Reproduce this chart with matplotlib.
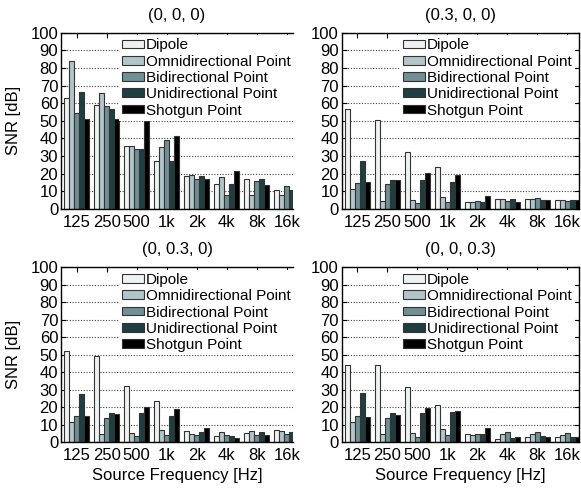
import numpy as np
import matplotlib
matplotlib.use("Agg")
import matplotlib.pyplot as plt

plt.rcParams['font.family'] = ['Liberation Sans', 'DejaVu Sans']

freqs = ["125", "250", "500", "1k", "2k", "4k", "8k", "16k"]
series = ["Dipole", "Omnidirectional Point", "Bidirectional Point",
          "Unidirectional Point", "Shotgun Point"]
colors = ["#eef2f3", "#b2c6ca", "#709094", "#1f3e40", "#000000"]

# SNR [dB] per series, per frequency band
snr_000 = [
    [63, 59, 35.5, 27, 18.5, 14.4, 16.8, 10.5],
    [84, 65.6, 35.5, 35.2, 19.3, 18.1, 8, 7.8],
    [54.3, 58.2, 34, 39.1, 16.8, 7.9, 15.9, 12.9],
    [66.4, 56.9, 34, 27, 18.7, 14.2, 17, 11],
    [51.2, 51.2, 49.9, 41.6, 17.2, 21.7, 13.8, 17.4],
]
snr_300 = [
    [56.5, 50.3, 32.1, 23.8, 4.2, 5.7, 5.9, 5.3],
    [11.3, 4.5, 5.3, 6.6, 3.8, 5.5, 5.7, 4.9],
    [14.9, 14, 3.4, 4.2, 4.3, 4.7, 6.0, 4.7],
    [27, 16.4, 16.3, 15.1, 3.8, 5.5, 5.3, 4.9],
    [15.1, 16.3, 20.4, 19.3, 7.4, 4.2, 5.1, 4.9],
]
snr_030 = [
    [52.4, 49.3, 32.2, 23.4, 6.3, 3.8, 5.5, 6.9],
    [11.4, 4.6, 5.3, 6.9, 4.8, 5.7, 6.5, 6.3],
    [15.2, 13.9, 3.4, 4.2, 4.2, 4.2, 4.3, 4.6],
    [27.4, 16.6, 16.6, 15.2, 6.1, 3.6, 5.7, 6.1],
    [15.2, 16.4, 20.4, 19.0, 8.0, 2.7, 4.4, 6.3],
]
snr_003 = [
    [44.4, 44, 31.6, 21.3, 4.6, 1.9, 3.2, 3.2],
    [11.4, 4.6, 5.5, 7.4, 4.2, 4.8, 4.6, 4.4],
    [14.9, 13.7, 3.0, 4.0, 4.6, 5.7, 5.9, 5.1],
    [28.2, 16.8, 17, 17.5, 4.6, 2.5, 3.4, 3.2],
    [14.3, 15.6, 19.8, 17.7, 8.2, 3.2, 3.0, 3.2],
]

panels = [
    ("(0, 0, 0)", snr_000, (61, 293, 32.7, 209), True, False),
    ("(0.3, 0, 0)", snr_300, (341.7, 579, 32.7, 209), False, False),
    ("(0, 0.3, 0)", snr_030, (61, 293, 267.3, 442.3), True, True),
    ("(0, 0, 0.3)", snr_003, (341.7, 579, 267.3, 442.3), False, True),
]

W, H = 581, 493
fig = plt.figure(figsize=(W / 100, H / 100), dpi=100)
x = np.arange(len(freqs))
bw = 1 / 6
fs = 12

for title, data, (x0, x1, yt, yb), left, bottom in panels:
    ax = fig.add_axes([x0 / W, 1 - yb / H, (x1 - x0) / W, (yb - yt) / H])
    for j, (name, vals) in enumerate(zip(series, data)):
        ax.bar(x + (j - 2) * bw, vals, bw, color=colors[j], edgecolor="#333333",
               linewidth=0.8, label=name, zorder=3)
    # 30 px per group, first group ~15.7 px from the frame
    ax.set_xlim(-15.7 / 30, (x1 - x0 - 15.7) / 30)
    ax.set_ylim(0, 100)
    ax.set_yticks(range(0, 101, 10))
    ax.set_xticks(x)
    ax.set_xticklabels(freqs, fontsize=fs)
    ax.tick_params(axis="y", labelsize=fs, pad=2)
    ax.tick_params(direction="in", length=3.5, width=0.8, top=True, right=not left)
    ax.tick_params(axis="x", pad=4)
    ax.set_axisbelow(True)
    ax.yaxis.grid(True, linestyle=(0, (1, 1.5)), color="#444444", linewidth=0.8, zorder=0)
    for sp in ax.spines.values():
        sp.set_linewidth(1.0)
        sp.set_zorder(6)
    if left:
        ax.spines["right"].set_visible(False)
        ax.set_ylabel("SNR [dB]", fontsize=fs, labelpad=7)
    if bottom:
        ax.set_xlabel("Source Frequency [Hz]", fontsize=fs, labelpad=4)
    ax.set_title(title, fontsize=fs, pad=9.5)
    anchor_x = (119 - x0) / (x1 - x0) if left else (400 - x0) / (x1 - x0)
    leg = ax.legend(loc="upper left", bbox_to_anchor=(anchor_x, 0.985),
                    fontsize=11, frameon=True, fancybox=False, edgecolor="none",
                    facecolor="white", framealpha=1, borderaxespad=0, borderpad=0.2,
                    handlelength=1.45, handleheight=0.5, handletextpad=0.12,
                    labelspacing=0.15)
    leg.get_frame().set_linewidth(0)
    leg.set_zorder(5)

fig.savefig("out.png", dpi=100)
